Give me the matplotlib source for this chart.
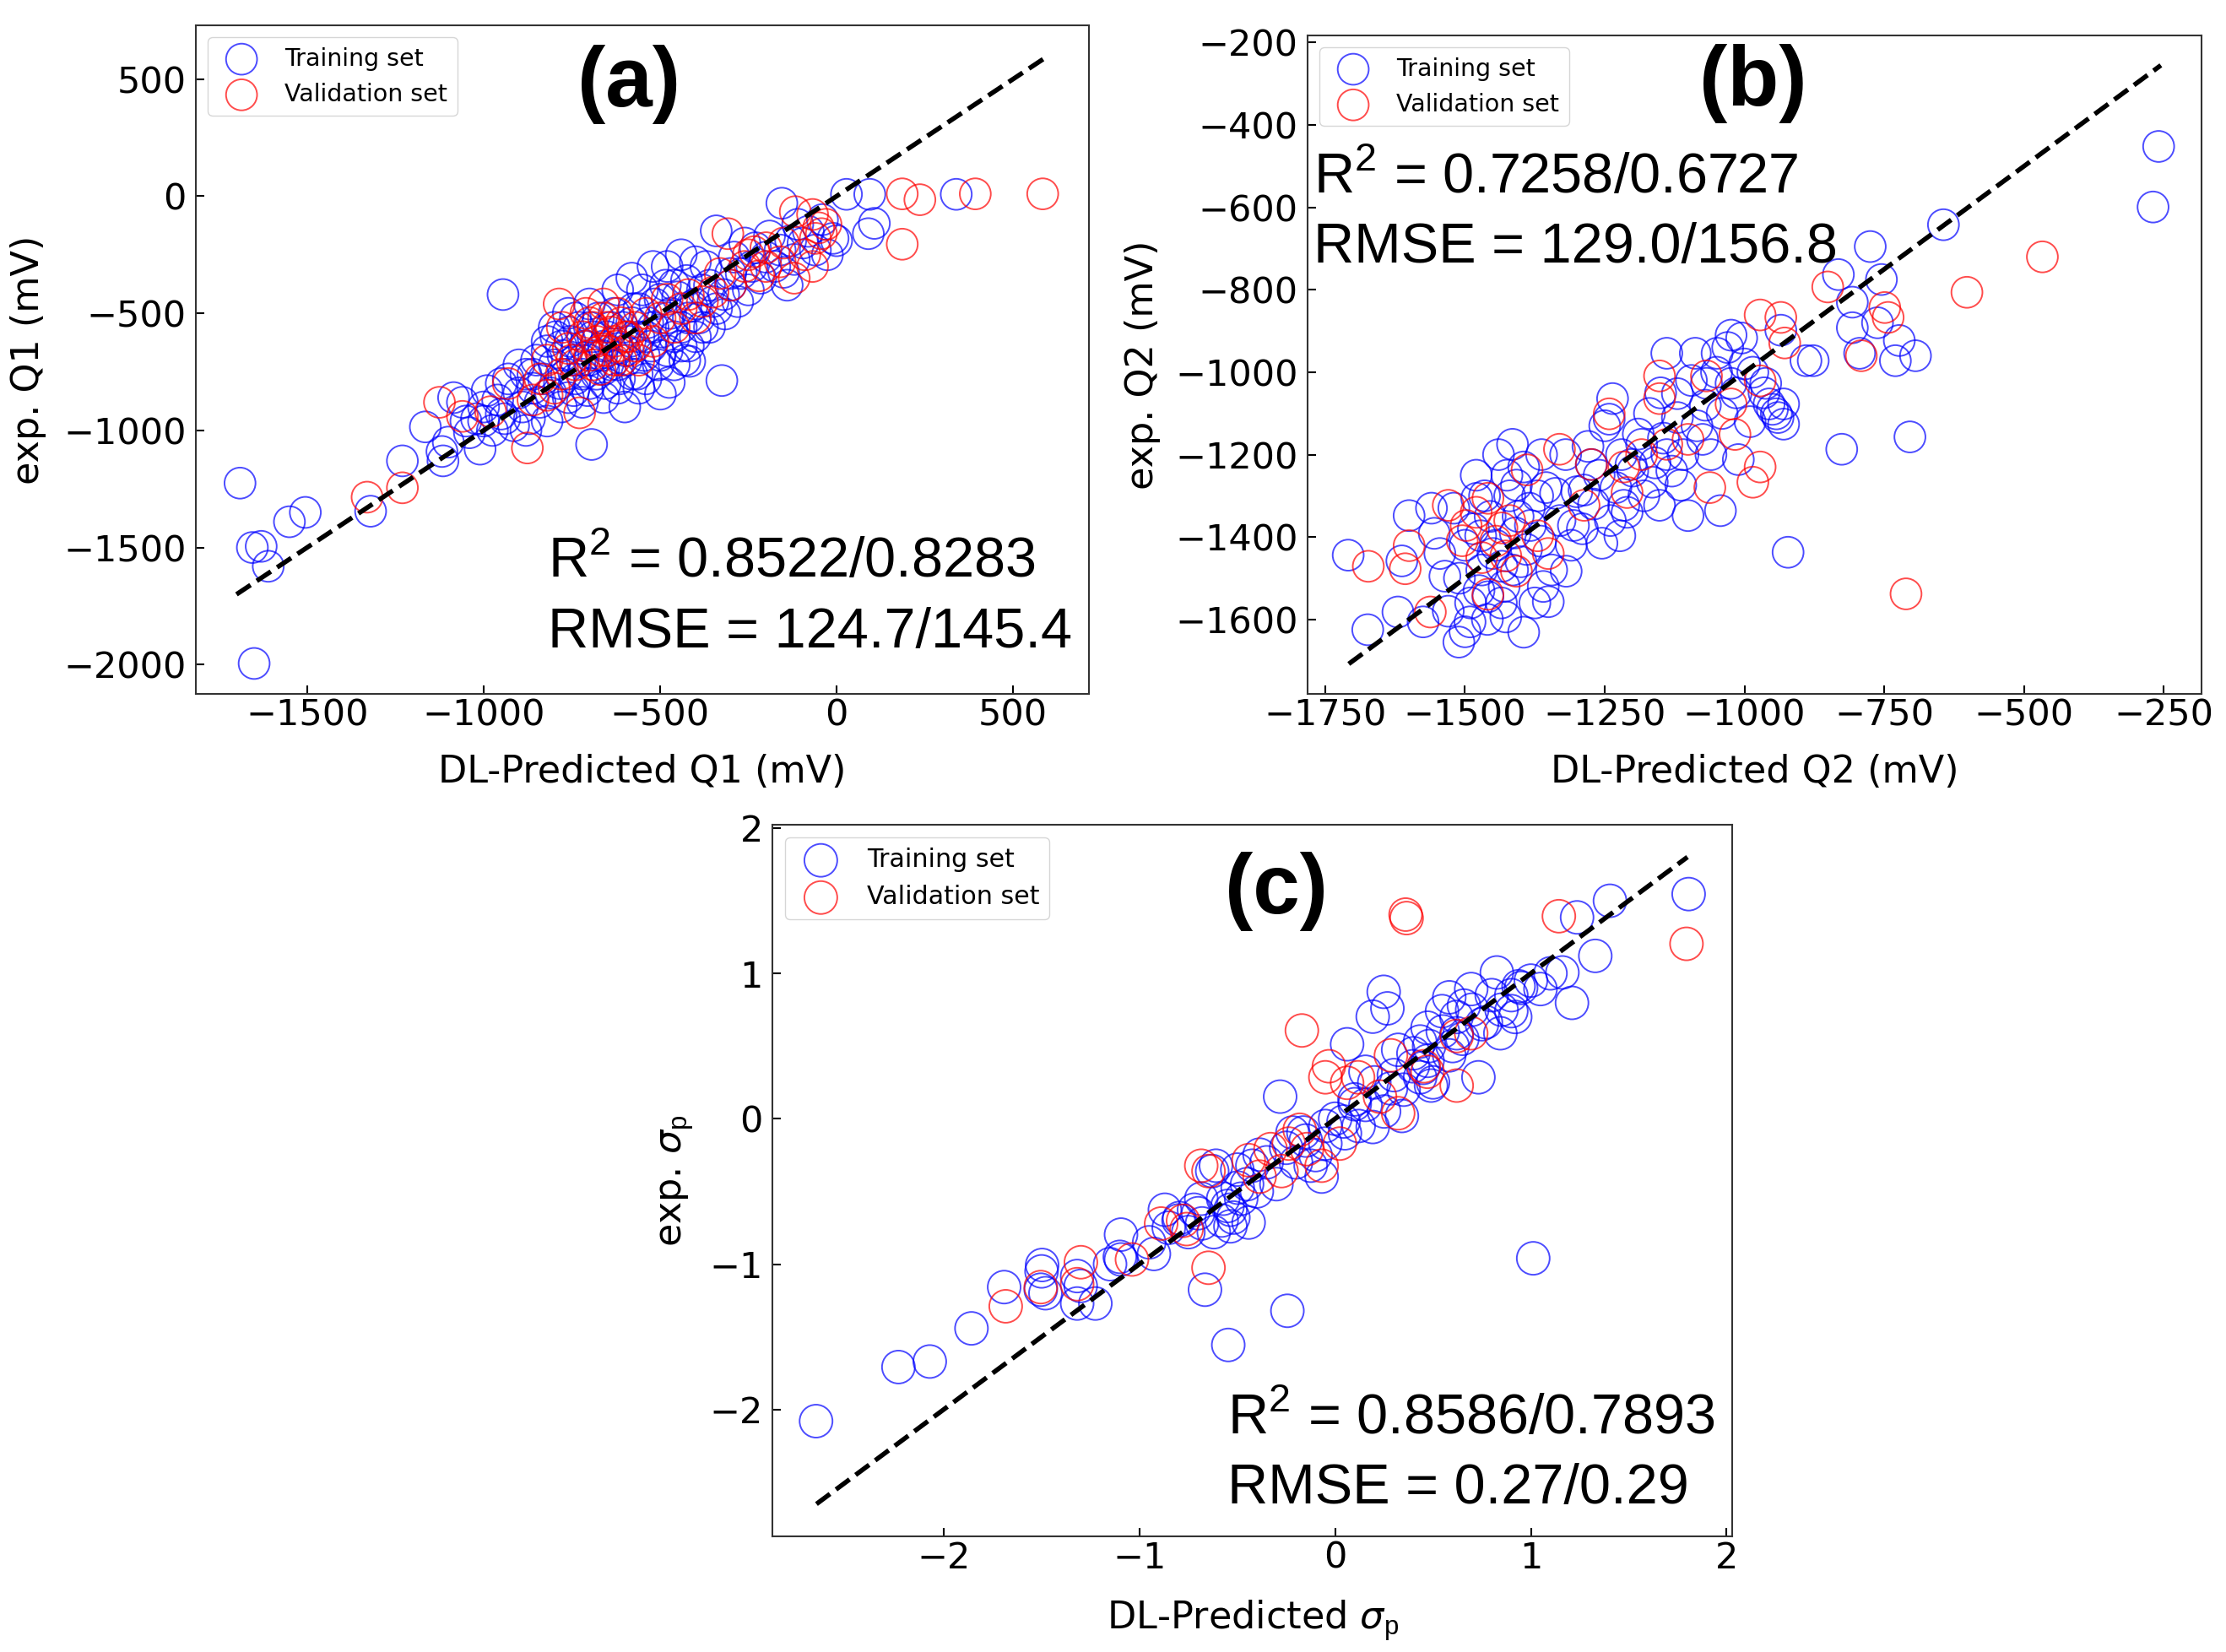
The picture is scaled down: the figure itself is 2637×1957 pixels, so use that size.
import matplotlib.pyplot as plt
from matplotlib.ticker import MultipleLocator

plt.rcParams['mathtext.fontset'] = 'custom'
plt.rcParams['mathtext.rm'] = 'Liberation Sans'
plt.rcParams['mathtext.it'] = 'DejaVu Sans:italic'
plt.rcParams['mathtext.bf'] = 'Liberation Sans:bold'

# ---- panel (a): Q1 ----
a_train = [(-1690, -1225), (-1650, -1995), (-1655, -1500), (-1630, -1495), (-1610, -1580),
           (-1550, -1390), (-1505, -1350), (-1320, -1345), (-1230, -1130), (-1165, -985),
           (-1115, -1130), (-1118, -1090), (-1100, -1050), (-1085, -860), (-1060, -880),
           (-1040, -1010), (-1020, -950), (-1000, -900), (-990, -830), (-975, -1000),
           (-960, -870), (-950, -930), (-945, -420), (-930, -780), (-915, -980),
           (-900, -840), (-890, -900), (-880, -760), (-870, -950), (-860, -820),
           (-850, -700), (-840, -880), (-830, -780), (-820, -660), (-810, -840),
           (-800, -720), (-795, -600), (-785, -800), (-775, -680), (-765, -760),
           (-755, -620), (-745, -830), (-740, -700), (-730, -560), (-720, -760),
           (-715, -640), (-705, -830), (-700, -700), (-694, -1060), (-690, -600),
           (-680, -760), (-675, -520), (-665, -680), (-655, -800), (-650, -600),
           (-640, -720), (-630, -500), (-620, -650), (-615, -780), (-605, -560),
           (-595, -700), (-585, -620), (-575, -480), (-565, -760), (-560, -600),
           (-550, -400), (-545, -680), (-535, -540), (-525, -640), (-515, -460),
           (-505, -720), (-499, -845), (-495, -580), (-485, -380), (-480, -660),
           (-474, -795), (-470, -500), (-460, -600), (-450, -430), (-440, -560),
           (-430, -700), (-425, -360), (-416, -705), (-410, -470), (-400, -600),
           (-390, -520), (-380, -400), (-370, -300), (-360, -560), (-350, -450),
           (-341, -148), (-325, -787), (-316, -503), (-300, -380), (-290, -260),
           (-280, -450), (-270, -330), (-260, -200), (-250, -400), (-240, -300),
           (-230, -220), (-215, -350), (-200, -260), (-190, -170), (-175, -300),
           (-160, -230), (-155, -30), (-150, -325), (-140, -380), (-130, -190),
           (-120, -270), (-110, -120), (-95, -200), (-80, -150), (-60, -230),
           (-40, -100), (-26, -250), (-10, -180), (0, -190), (28, 8), (94, 8),
           (107, -116), (90, -160), (339, 8), (-880, -1000), (-600, -900),
           (-520, -300), (-780, -900), (-720, -880), (-660, -860), (-560, -820),
           (-1010, -1080), (-940, -950), (-820, -960), (-760, -500), (-700, -460),
           (-620, -400), (-580, -350), (-480, -300), (-440, -250), (-400, -280),
           (-820, -620), (-800, -560), (-780, -640), (-760, -580), (-740, -520),
           (-720, -700), (-700, -560), (-680, -680), (-660, -640), (-640, -560),
           (-620, -720), (-600, -660), (-580, -540), (-560, -480), (-540, -600),
           (-520, -560), (-500, -440), (-480, -520), (-460, -380), (-440, -640),
           (-420, -520), (-400, -460), (-380, -560), (-360, -380), (-340, -480),
           (-320, -420), (-300, -330), (-760, -860), (-740, -780), (-700, -800),
           (-660, -740), (-620, -820), (-580, -760), (-540, -780), (-500, -680),
           (-460, -720), (-420, -640), (-860, -760), (-900, -720), (-950, -800),
           (-1000, -960), (-1050, -960)]
a_val = [(-1330, -1285), (-1230, -1245), (-1125, -880), (-1060, -940), (-980, -920),
         (-930, -800), (-876, -1075), (-860, -870), (-840, -780), (-820, -700),
         (-800, -820), (-786, -460), (-777, -560), (-760, -650), (-740, -720),
         (-728, -925), (-720, -600), (-710, -500), (-700, -680), (-690, -560),
         (-680, -620), (-670, -740), (-660, -520), (-650, -660), (-640, -580),
         (-630, -700), (-620, -640), (-610, -540), (-600, -600), (-590, -660),
         (-570, -560), (-560, -700), (-540, -500), (-520, -620), (-500, -520),
         (-480, -440), (-460, -560), (-440, -480), (-420, -420), (-400, -520),
         (-350, -410), (-308, -160), (-300, -380), (-260, -300), (-233, -237),
         (-220, -340), (-200, -220), (-160, -280), (-117, -66), (-68, -78),
         (-51, -135), (-43, -160), (-68, -300), (-30, -120), (186, 10),
         (236, -15), (393, 10), (584, 10), (186, -205),
         (-710, -640), (-690, -720), (-670, -660), (-650, -560), (-630, -620),
         (-610, -700), (-590, -600), (-570, -640), (-700, -540), (-660, -460),
         (-620, -500), (-750, -700), (-780, -760), (-820, -850), (-250, -250),
         (-200, -300), (-150, -200), (-120, -350), (-90, -250), (-60, -180),
         (-330, -330), (-380, -450)]
a_diag = [-1700, 600]

# ---- panel (b): Q2 ----
b_train = [(-259, -452), (-269, -599), (-644, -642), (-775, -695), (-832, -763),
           (-755, -775), (-807, -830), (-807, -892), (-762, -880), (-723, -923),
           (-730, -972), (-694, -960), (-704, -1157), (-826, -1187), (-922, -1437),
           (-890, -972), (-935, -898), (-794, -954),
           (-1709, -1444), (-1674, -1625), (-1600, -1348), (-1613, -1458), (-1620, -1582),
           (-1575, -1606), (-1555, -1391), (-1536, -1495), (-1511, -1655), (-1491, -1606),
           (-1479, -1306), (-1472, -1397), (-1459, -1545), (-1434, -1471), (-1427, -1594),
           (-1415, -1175), (-1408, -1274), (-1395, -1631), (-1383, -1372), (-1363, -1200),
           (-1351, -1557), (-1338, -1294), (-1319, -1483), (-1306, -1372), (-1287, -1286),
           (-1274, -1224), (-1255, -1415), (-1242, -1114), (-1236, -1064), (-1223, -1397),
           (-1216, -1323), (-1203, -1224), (-1184, -1175), (-1165, -1267), (-1152, -1323),
           (-1139, -954), (-1139, -1200), (-1120, -1052), (-1114, -1274), (-1101, -1348),
           (-1088, -954), (-1075, -1163), (-1068, -1027), (-1049, -954), (-1043, -1336),
           (-1024, -1027), (-1024, -910), (-1005, -917), (-1011, -1212), (-962, -1027),
           (-956, -1077), (-943, -1101), (-930, -1077), (-930, -1126), (-877, -972),
           (-1520, -1330), (-1500, -1420), (-1490, -1560), (-1480, -1250), (-1470, -1480),
           (-1460, -1600), (-1455, -1350), (-1445, -1420), (-1440, -1200), (-1430, -1520),
           (-1420, -1300), (-1410, -1390), (-1400, -1460), (-1395, -1230), (-1385, -1330),
           (-1375, -1560), (-1365, -1410), (-1355, -1280), (-1345, -1480), (-1330, -1360),
           (-1320, -1200), (-1310, -1420), (-1300, -1290), (-1290, -1380), (-1280, -1180),
           (-1270, -1320), (-1260, -1250), (-1250, -1130), (-1240, -1360), (-1230, -1280),
           (-1220, -1200), (-1210, -1340), (-1200, -1240), (-1190, -1150), (-1180, -1300),
           (-1170, -1100), (-1160, -1220), (-1150, -1050), (-1145, -1160), (-1130, -1240),
           (-1120, -1110), (-1110, -1200), (-1095, -1020), (-1085, -1130), (-1070, -1080),
           (-1060, -1200), (-1050, -1000), (-1040, -1100), (-1030, -940), (-1015, -1050),
           (-1000, -980), (-990, -1120), (-985, -1000), (-965, -1050), (-950, -1090),
           (-940, -1110), (-1560, -1330), (-1545, -1440), (-1530, -1580), (-1510, -1500),
           (-1500, -1630), (-1485, -1380), (-1475, -1530), (-1465, -1300), (-1450, -1440),
           (-1435, -1560), (-1425, -1250), (-1415, -1480), (-1405, -1350), (-1390, -1430),
           (-1370, -1300), (-1360, -1520)]
b_val = [(-1673, -1471), (-1600, -1421), (-1607, -1477), (-1562, -1582), (-1530, -1323),
         (-1498, -1372), (-1505, -1409), (-1459, -1306), (-1459, -1539), (-1434, -1378),
         (-1427, -1446), (-1408, -1483), (-1389, -1237), (-1370, -1397), (-1351, -1440),
         (-1331, -1187), (-1287, -1323), (-1274, -1224), (-1242, -1101), (-1216, -1230),
         (-1210, -1292), (-1184, -1200), (-1152, -1009), (-1152, -1064), (-1139, -1175),
         (-1101, -1163), (-1068, -1009), (-1062, -1280), (-1024, -1077), (-1017, -1151),
         (-985, -1267), (-972, -1230), (-972, -861), (-935, -867), (-928, -929),
         (-972, -1021), (-851, -793), (-791, -960), (-749, -843), (-743, -867),
         (-602, -806), (-467, -720), (-711, -1538), (-1480, -1340), (-1445, -1410),
         (-1420, -1360), (-1470, -1450)]
b_diag = [-1708, -255]

# ---- panel (c): sigma_p ----
c_train = [(-2.652, -2.080), (-2.231, -1.708), (-2.071, -1.670), (-1.858, -1.442), (-1.691, -1.158),
           (-1.497, -1.006), (-1.504, -1.176), (-1.318, -1.082), (-1.318, -1.271), (-1.225, -1.271),
           (-1.094, -0.797), (-1.094, -0.968), (-0.926, -0.930), (-0.870, -0.626), (-0.796, -0.683),
           (-0.721, -0.626), (-0.665, -1.176), (-0.609, -0.323), (-0.535, -0.626), (-0.535, -0.740),
           (-0.498, -0.474), (-0.442, -0.714), (-0.423, -0.323), (-0.546, -1.556), (-0.244, -1.321),
           (1.012, -0.960), (-0.281, 0.152), (-0.218, -0.095), (-0.125, -0.323), (-0.069, -0.398),
           (0.043, -0.019), (0.061, 0.512), (0.099, 0.133), (0.155, 0.323), (0.192, 0.702),
           (0.248, 0.873), (0.267, 0.759), (0.192, -0.057), (0.322, 0.474), (0.341, 0.019),
           (0.397, 0.361), (0.434, 0.531), (0.472, 0.626), (0.490, 0.228), (0.546, 0.740),
           (0.583, 0.835), (0.621, 0.588), (0.658, 0.778), (0.695, 0.892), (0.732, 0.285),
           (0.770, 0.664), (0.826, 1.006), (0.900, 0.740), (0.937, 0.911), (1.049, 0.892),
           (1.161, 1.006), (1.210, 0.797), (1.329, 1.120), (1.236, 1.385), (1.404, 1.499),
           (1.806, 1.545), (0.583, 0.436), (0.472, 0.398), (0.434, 0.285), (0.285, 0.209),
           (0.155, 0.095), (-0.050, -0.171), (-0.162, -0.095), (-0.386, -0.247), (-0.628, -0.360),
           (-0.572, -0.550), (-0.684, -0.550), (0.844, 0.588),
           (-0.85, -0.75), (-0.80, -0.70), (-0.75, -0.78), (-0.70, -0.65), (-0.68, -0.72),
           (-0.62, -0.78), (-0.58, -0.70), (-0.55, -0.60), (-0.52, -0.68), (-0.50, -0.35),
           (-0.48, -0.55), (-0.45, -0.45), (-0.40, -0.50), (-0.35, -0.30), (-0.30, -0.45),
           (-0.25, -0.20), (-0.20, -0.30), (-0.15, -0.15), (-0.10, -0.25), (-0.05, -0.05),
           (0.00, 0.00), (0.05, -0.10), (0.10, 0.10), (0.12, -0.05), (0.20, 0.25),
           (0.25, 0.05), (0.30, 0.30), (0.35, 0.20), (0.40, 0.45), (0.45, 0.35),
           (0.48, 0.50), (0.50, 0.25), (0.55, 0.60), (0.60, 0.50), (0.62, 0.70),
           (0.65, 0.55), (0.70, 0.75), (0.75, 0.65), (0.80, 0.85), (0.85, 0.75),
           (0.90, 0.85), (0.92, 0.70), (0.95, 0.90), (1.00, 0.95), (1.10, 1.00),
           (-1.10, -0.95), (-0.95, -0.85), (-1.15, -1.00), (-1.30, -1.15), (-1.50, -1.05),
           (-1.48, -1.20)]
c_val = [(0.360, 1.404), (0.365, 1.38), (1.143, 1.393), (1.795, 1.203), (-0.170, 0.607),
         (-1.683, -1.290), (-1.504, -1.158), (-1.299, -0.987), (-1.318, -1.138), (-1.038, -0.968),
         (-0.889, -0.721), (-0.777, -0.702), (-0.759, -0.759), (-0.647, -1.025), (-0.684, -0.323),
         (-0.647, -0.360), (-0.442, -0.285), (-0.386, -0.398), (-0.330, -0.209), (-0.274, -0.360),
         (-0.237, -0.171), (-0.181, -0.076), (-0.144, -0.209), (-0.069, -0.323), (0.024, -0.171),
         (-0.050, 0.285), (-0.032, 0.361), (0.061, 0.247), (0.117, 0.285), (0.229, 0.152),
         (0.285, 0.436), (0.322, 0.038), (0.453, 0.361), (0.621, 0.228), (0.621, 0.569),
         (0.695, 0.588), (0.472, 0.323)]
c_diag = [-2.65, 1.80]

panels = [
    dict(train=a_train, val=a_val, diag=a_diag, tag='(a)',
         r2=r'R$^2$ = 0.8522/0.8283', rmse='RMSE = 124.7/145.4',
         xlabel='DL-Predicted Q1 (mV)', ylabel='exp. Q1 (mV)', xstep=500, ystep=500,
         pos=[0.0880, 0.5800, 0.4012, 0.4047], tagxy=(0.485, 0.879),
         txt=(0.394, 0.174, 0.069), ylab_x=-0.167, xlab_y=-0.090, k=1.0),
    dict(train=b_train, val=b_val, diag=b_diag, tag='(b)',
         r2=r'R$^2$ = 0.7258/0.6727', rmse='RMSE = 129.0/156.8',
         xlabel='DL-Predicted Q2 (mV)', ylabel='exp. Q2 (mV)', xstep=250, ystep=200,
         pos=[0.5874, 0.5800, 0.4016, 0.3986], tagxy=(0.498, 0.894),
         txt=(0.007, 0.760, 0.655), ylab_x=-0.164, xlab_y=-0.091, k=1.0),
    dict(train=c_train, val=c_val, diag=c_diag, tag='(c)',
         r2=r'R$^2$ = 0.8586/0.7893', rmse='RMSE = 0.27/0.29',
         xlabel=r'DL-Predicted $\sigma_\mathrm{p}$', ylabel=r'exp. $\sigma_\mathrm{p}$', xstep=1, ystep=1,
         pos=[0.3470, 0.0700, 0.4312, 0.4308], tagxy=(0.525, 0.875),
         txt=(0.474, 0.1435, 0.046), ylab_x=-0.080, xlab_y=-0.087, k=1.06),
]

fig = plt.figure(figsize=(26.37, 19.57), dpi=100)

for p in panels:
    k = p['k']
    ax = fig.add_axes(p['pos'])
    tx, ty = zip(*p['train'])
    vx, vy = zip(*p['val'])
    ax.scatter(tx, ty, s=700 * k * k, facecolors='none', edgecolors='blue', alpha=0.7,
               linewidths=1.4, label='Training set')
    ax.scatter(vx, vy, s=700 * k * k, facecolors='none', edgecolors='red', alpha=0.7,
               linewidths=1.4, label='Validation set')
    ax.plot(p['diag'], p['diag'], color='black', lw=4, linestyle=(0, (3.6, 1.6)))

    ax.xaxis.set_major_locator(MultipleLocator(p['xstep']))
    ax.yaxis.set_major_locator(MultipleLocator(p['ystep']))
    ax.tick_params(direction='in', length=7, width=1.5, labelsize=31)
    ax.tick_params(axis='y', pad=8)
    for sp in ax.spines.values():
        sp.set_linewidth(1.5)
        sp.set_color('#333333')
    ax.set_xlabel(p['xlabel'], fontsize=32)
    ax.set_ylabel(p['ylabel'], fontsize=32)
    ax.yaxis.set_label_coords(p['ylab_x'], 0.5)
    ax.xaxis.set_label_coords(0.5, p['xlab_y'])

    ax.legend(loc='upper left', fontsize=20.5 * k)
    ax.text(p['tagxy'][0], p['tagxy'][1], p['tag'], transform=ax.transAxes,
            ha='center', va='baseline', fontsize=72, fontweight='bold',
            family='Liberation Sans')
    x0, y1, y2 = p['txt']
    ax.text(x0, y1, p['r2'], transform=ax.transAxes, ha='left', va='baseline',
            fontsize=48, family='Liberation Sans')
    ax.text(x0, y2, p['rmse'], transform=ax.transAxes, ha='left', va='baseline',
            fontsize=48, family='Liberation Sans')

fig.savefig('out.png', dpi=100)
